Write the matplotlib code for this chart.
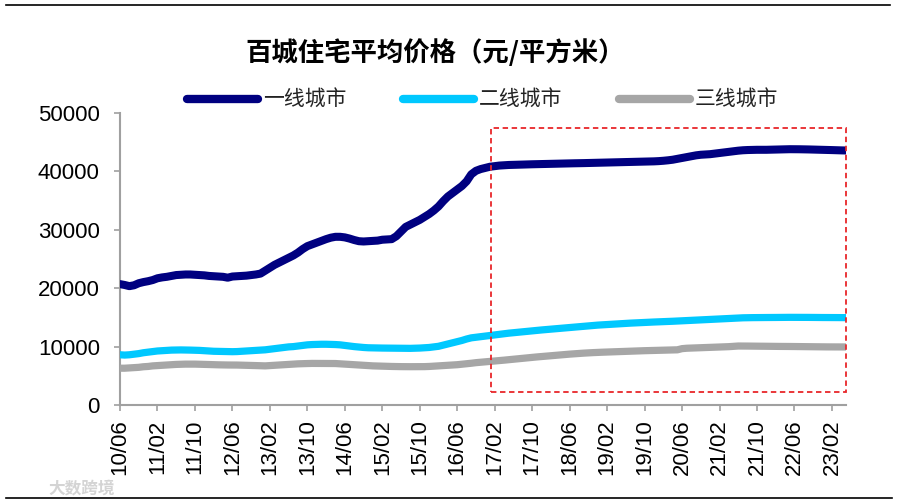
import matplotlib
matplotlib.use("Agg")
import matplotlib.pyplot as plt
from matplotlib.lines import Line2D
from matplotlib.patches import Rectangle

# ---------------- data (monthly, 2010/06 - 2023/05) ----------------
tier1 = [
    20700, 20550, 20350, 20500, 20850, 21050, 21200, 21400, 21700, 21850, 21950, 22100,
    22250, 22300, 22350, 22350, 22300, 22250, 22200, 22100, 22050, 22000, 21950, 21800,
    22000, 22050, 22100, 22150, 22250, 22350, 22500, 23000, 23500, 24000, 24400, 24800,
    25200, 25600, 26100, 26700, 27200, 27500, 27800, 28100, 28400, 28650, 28800, 28800,
    28700, 28500, 28250, 28050, 28000, 28050, 28100, 28150, 28300, 28350, 28400, 28900,
    29700, 30500, 30900, 31300, 31700, 32200, 32700, 33300, 34000, 34900, 35700, 36300,
    36900, 37500, 38300, 39500, 40100, 40400, 40600, 40800, 40900, 41000, 41050, 41100,
    41120, 41150, 41170, 41200, 41220, 41240, 41260, 41280, 41300, 41320, 41330, 41350,
    41370, 41390, 41400, 41420, 41440, 41460, 41480, 41500, 41520, 41540, 41560, 41580,
    41600, 41620, 41640, 41660, 41680, 41700, 41720, 41760, 41820, 41900, 42000, 42150,
    42300, 42450, 42600, 42750, 42850, 42900, 42950, 43050, 43150, 43250, 43350, 43450,
    43550, 43620, 43660, 43680, 43700, 43700, 43700, 43720, 43740, 43760, 43780, 43800,
    43800, 43790, 43780, 43760, 43740, 43720, 43700, 43680, 43650, 43620, 43600, 43580,
]
tier2 = [
    8600, 8550, 8600, 8700, 8800, 8950, 9050, 9150, 9250, 9300, 9350, 9400,
    9420, 9430, 9420, 9400, 9380, 9350, 9300, 9250, 9200, 9180, 9150, 9130,
    9130, 9150, 9200, 9250, 9300, 9350, 9400, 9450, 9550, 9650, 9750, 9850,
    9950, 10000, 10100, 10200, 10300, 10350, 10380, 10400, 10400, 10380, 10350, 10300,
    10200, 10100, 10000, 9920, 9850, 9800, 9780, 9760, 9750, 9740, 9720, 9720,
    9710, 9700, 9700, 9720, 9750, 9800, 9850, 9950, 10050, 10250, 10450, 10650,
    10850, 11050, 11300, 11500, 11600, 11700, 11800, 11900, 12000, 12100, 12200, 12300,
    12380, 12460, 12540, 12620, 12700, 12780, 12850, 12920, 12990, 13060, 13130, 13200,
    13270, 13340, 13410, 13480, 13550, 13620, 13680, 13730, 13780, 13830, 13880, 13930,
    13980, 14020, 14060, 14100, 14140, 14180, 14210, 14240, 14270, 14300, 14340, 14380,
    14420, 14460, 14500, 14540, 14580, 14620, 14660, 14700, 14740, 14780, 14820, 14860,
    14900, 14930, 14950, 14960, 14970, 14970, 14980, 14980, 14990, 15000, 15000, 15010,
    15010, 15010, 15000, 15000, 14990, 14990, 14980, 14980, 14970, 14970, 14960, 14960,
]
tier3 = [
    6300, 6300, 6350, 6400, 6450, 6550, 6600, 6700, 6750, 6800, 6850, 6900,
    6950, 6980, 7000, 7000, 7000, 6980, 6950, 6930, 6900, 6880, 6860, 6850,
    6850, 6840, 6820, 6800, 6780, 6750, 6720, 6700, 6750, 6800, 6850, 6900,
    6950, 7000, 7050, 7080, 7100, 7120, 7120, 7120, 7110, 7100, 7100, 7050,
    7000, 6950, 6900, 6850, 6800, 6750, 6700, 6680, 6650, 6620, 6600, 6580,
    6570, 6560, 6560, 6560, 6560, 6570, 6600, 6650, 6700, 6750, 6800, 6850,
    6900, 6980, 7050, 7150, 7250, 7320, 7400, 7450, 7520, 7600, 7680, 7760,
    7840, 7920, 8000, 8080, 8160, 8230, 8300, 8370, 8440, 8510, 8580, 8650,
    8710, 8770, 8830, 8880, 8930, 8970, 9010, 9040, 9070, 9100, 9130, 9160,
    9190, 9220, 9250, 9280, 9300, 9320, 9340, 9360, 9380, 9400, 9420, 9450,
    9650, 9720, 9750, 9780, 9810, 9840, 9870, 9900, 9930, 9960, 9990, 10050,
    10100, 10100, 10090, 10080, 10070, 10060, 10050, 10050, 10040, 10030, 10030, 10020,
    10010, 10000, 9990, 9980, 9970, 9960, 9960, 9950, 9950, 9940, 9940, 9940,
]
series_names = ["一线城市", "二线城市", "三线城市"]
tick_labels = ["10/06", "11/02", "11/10", "12/06", "13/02", "13/10", "14/06",
               "15/02", "15/10", "16/06", "17/02", "17/10", "18/06", "19/02",
               "19/10", "20/06", "21/02", "21/10", "22/06", "23/02"]
tick_positions = [i * 8 for i in range(len(tick_labels))]
highlight_x = [79.2, 155]
highlight_y = [2200, 47500]
title = "百城住宅平均价格（元/平方米）"

# ---------------- styling ----------------
CJK = ["Noto Sans CJK SC", "DejaVu Sans"]
NUM = ["Liberation Sans", "DejaVu Sans"]
colors = ["#000080", "#00C8FF", "#A6A6A6"]
widths = [5.8, 5.2, 5.2]
axis_gray = "#A0A0A0"

fig = plt.figure(figsize=(9.01, 5.04), dpi=100)
ax = fig.add_axes([120 / 901, 1 - 405 / 504, (846 - 120) / 901, (405 - 113) / 504])

x = list(range(len(tier1)))
handles = []
for data, c, lw, name in zip([tier1, tier2, tier3], colors, widths, series_names):
    h, = ax.plot(x, data, color=c, lw=lw, solid_capstyle="round",
                 solid_joinstyle="round", label=name, zorder=3)
    handles.append(h)

ax.set_xlim(0, len(tier1) - 1)
ax.set_ylim(0, 50000)
ax.set_yticks(range(0, 50001, 10000))
ax.set_yticklabels([str(v) for v in range(0, 50001, 10000)], family=NUM, fontsize=16)
ax.set_xticks(tick_positions)
ax.set_xticklabels(tick_labels, rotation=90, family=NUM, fontsize=16)

for s in ["top", "right"]:
    ax.spines[s].set_visible(False)
for s in ["left", "bottom"]:
    ax.spines[s].set_color(axis_gray)
    ax.spines[s].set_linewidth(1.5)
ax.tick_params(axis="y", direction="out", length=4.5, width=1.2, color=axis_gray, pad=10)
ax.tick_params(axis="x", direction="out", length=4.5, width=1.2, color=axis_gray, pad=6)

rect = Rectangle((highlight_x[0], highlight_y[0]), highlight_x[1] - highlight_x[0],
                 highlight_y[1] - highlight_y[0], fill=False, edgecolor="#E8262A",
                 linestyle=(0, (3, 2)), lw=1.3, clip_on=False, zorder=4)
ax.add_patch(rect)

fig.text(435 / 901, 1 - 53 / 504, title, ha="center", va="center",
         family=CJK, fontsize=19, fontweight="bold", color="#000000")

leg = ax.legend(handles=handles, loc="center", ncol=3, frameon=False,
                bbox_to_anchor=(0.5, (405 - 100) / (405 - 113)),
                prop={"family": CJK, "size": 15}, handlelength=3.4,
                handletextpad=0.25, columnspacing=2.7)
for t in leg.get_texts():
    t.set_color("#222222")
for lh in leg.get_lines():
    lh.set_linewidth(6)
    lh.set_solid_capstyle("round")

# frame lines
fig.add_artist(Line2D([6 / 901, 890 / 901], [1 - 4.5 / 504, 1 - 4.5 / 504],
                      color="black", lw=1.2))
fig.add_artist(Line2D([6 / 901, 892 / 901], [1 - 497.5 / 504, 1 - 497.5 / 504],
                      color="black", lw=1.2))

# watermark
fig.text(82 / 901, 1 - 488 / 504, "大数跨境", ha="center", va="center",
         family=CJK, fontsize=12, color="#D4D4D4", fontweight="bold")

fig.savefig("out.png", dpi=100)
